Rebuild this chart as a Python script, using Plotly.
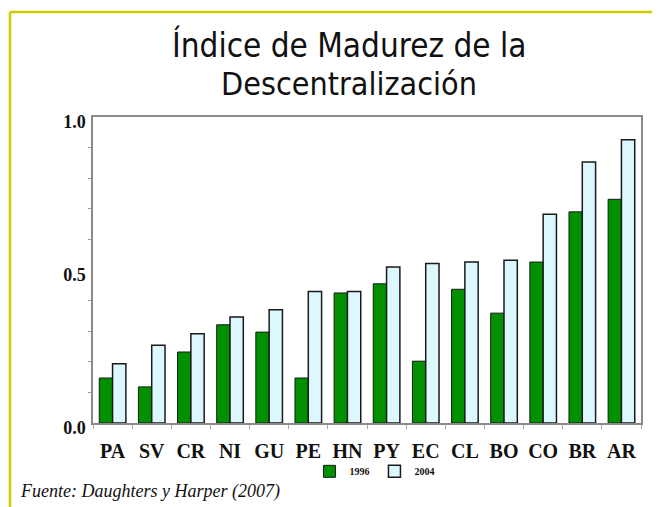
import plotly.graph_objects as go

countries = ["PA", "SV", "CR", "NI", "GU", "PE", "HN", "PY", "EC", "CL", "BO", "CO", "BR", "AR"]
v1996 = [0.147, 0.118, 0.232, 0.321, 0.297, 0.147, 0.425, 0.455, 0.202, 0.437, 0.359, 0.526, 0.690, 0.731]
v2004 = [0.194, 0.254, 0.292, 0.346, 0.370, 0.430, 0.430, 0.510, 0.521, 0.526, 0.532, 0.682, 0.853, 0.926]
ytickvals = [0.0, 0.5, 1.0]
yticktext = ["0.0", "0.5", "1.0"]

serif = "Liberation Serif, Times New Roman, serif"
narrow = "DejaVu Sans Condensed, Liberation Sans Narrow, Liberation Sans"

fig = go.Figure()
fig.add_trace(go.Bar(x=countries, y=v1996, name="<b>1996</b>",
                     marker=dict(color="#009000", line=dict(color="#1a1a1a", width=1))))
fig.add_trace(go.Bar(x=countries, y=v2004, name="<b>2004</b>",
                     marker=dict(color="#DDF7FF", line=dict(color="#1a1a1a", width=1.5))))

fig.update_layout(
    width=652, height=499,
    paper_bgcolor="white", plot_bgcolor="white",
    margin=dict(l=85, r=19, t=109, b=84),
    barmode="group", bargap=0.32, bargroupgap=0.0,
    showlegend=True,
    legend=dict(orientation="h", x=0.395, xanchor="left", y=-0.158, yanchor="middle",
                font=dict(family=serif, size=10, color="#111111"),
                itemwidth=30, entrywidth=20, entrywidthmode="pixels",
                tracegroupgap=0, bgcolor="rgba(0,0,0,0)"),
    xaxis=dict(showline=True, linecolor="#8a8a8a", linewidth=1.5, mirror=True,
               ticks="outside", tickson="boundaries", ticklen=4, tickcolor="#aaaaaa",
               tickvals=countries, ticktext=["<b>%s</b>" % c for c in countries],
               tickfont=dict(family=serif, size=20, color="#111111"),
               tickangle=0, ticklabelstandoff=9,
               showgrid=False, automargin=False),
    yaxis=dict(range=[0, 1.0], tickvals=ytickvals, ticktext=["<b>%s</b>" % t for t in yticktext],
               showline=True, linecolor="#8a8a8a", linewidth=1.5, mirror=True,
               ticks="", showgrid=False, zeroline=False, automargin=False,
               tickfont=dict(family=serif, size=18, color="#111111"),
               ticklabelshift=5, ticklabelstandoff=2,
               minor=dict(tickvals=[0.1, 0.2, 0.3, 0.4, 0.6, 0.7, 0.8, 0.9],
                          ticks="outside", ticklen=3, tickcolor="#999999")),
    shapes=[
        dict(type="line", xref="paper", yref="paper", x0=-0.1515, x1=1.2, y0=1.343, y1=1.343,
             line=dict(color="#CCCC00", width=2.5)),
        dict(type="line", xref="paper", yref="paper", x0=-0.1515, x1=-0.1515, y0=1.343, y1=-0.4,
             line=dict(color="#CCCC00", width=2.5)),
    ],
    annotations=[
        dict(text="Índice de Madurez de la", xref="paper", yref="paper", x=0.467, y=1.235,
             xanchor="center", yanchor="middle", showarrow=False,
             font=dict(family=narrow, size=33, color="#111111")),
        dict(text="Descentralización", xref="paper", yref="paper", x=0.467, y=1.108,
             xanchor="center", yanchor="middle", showarrow=False,
             font=dict(family=narrow, size=32, color="#111111")),
        dict(text="<i>Fuente: Daughters y Harper (2007)</i>", xref="paper", yref="paper",
             x=-0.137, y=-0.225, xanchor="left", yanchor="middle", showarrow=False,
             font=dict(family=serif, size=18, color="#111111")),
    ],
)
fig.write_html("out.html")
